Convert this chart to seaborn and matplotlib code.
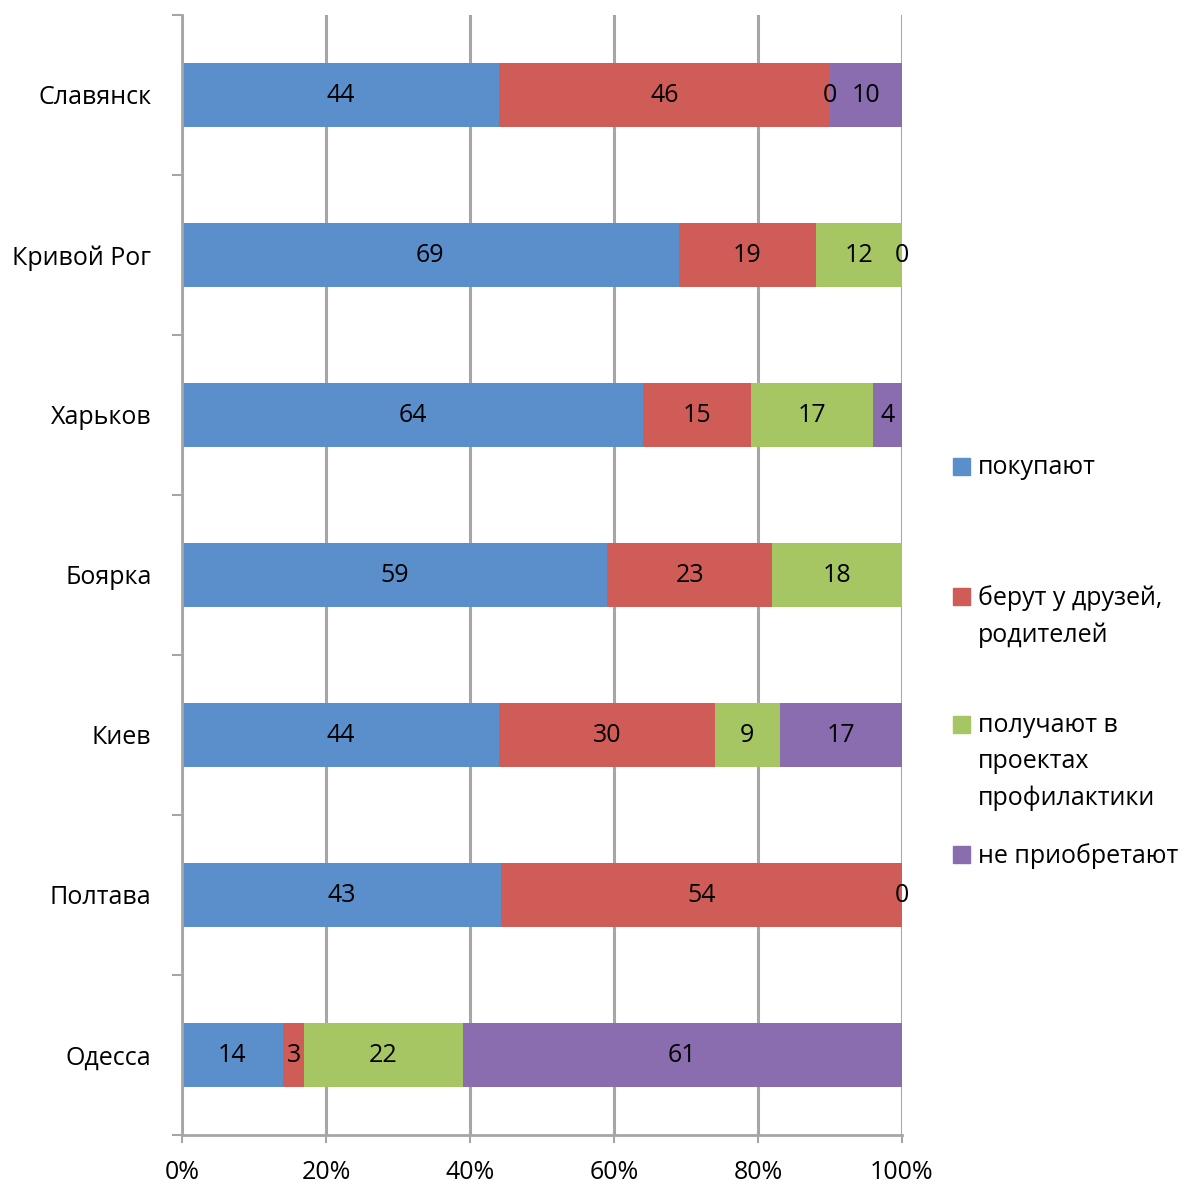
import numpy as np
import pandas as pd
import matplotlib.pyplot as plt
import seaborn as sns
from matplotlib.patches import Rectangle

# data
cities = ["Славянск", "Кривой Рог", "Харьков", "Боярка", "Киев", "Полтава", "Одесса"]
buy = [44, 69, 64, 59, 44, 43, 14]
borrow = [46, 19, 15, 23, 30, 54, 3]
projects = [0, 12, 17, 18, 9, 0, 22]
not_get = [10, 0, 4, np.nan, 17, np.nan, 61]
series_names = ["покупают", "берут у друзей,\nродителей",
                "получают в\nпроектах\nпрофилактики", "не приобретают"]
colors = ["#5A8FCB", "#D05C57", "#A6C663", "#8A6DAE"]
x_ticks = [0, 20, 40, 60, 80, 100]

sns.set_theme(style="white")
plt.rcParams["font.family"] = ["Open Sans", "DejaVu Sans"]
plt.rcParams["text.color"] = "black"

W, H = 1184, 1187
fig = plt.figure(figsize=(W / 100, H / 100), dpi=100)
ax = fig.add_axes([182 / W, 1 - 1135 / H, 720 / W, 1120 / H])

series = [buy, borrow, projects, not_get]
totals = np.nansum(np.array(series, dtype=float), axis=0)

left = np.zeros(len(cities))
for vals, color in zip(series, colors):
    vals = np.array(vals, dtype=float)
    pct = np.nan_to_num(vals) / totals * 100
    d = pd.DataFrame({"city": cities, "pct": pct})
    sns.barplot(data=d, x="pct", y="city", orient="h", color=color,
                width=0.4, saturation=1, errorbar=None, left=left.copy(),
                linewidth=0, ax=ax)
    labels = ["" if np.isnan(v) else "{:.0f}".format(v) for v in vals]
    ax.bar_label(ax.containers[-1], labels=labels, label_type="center",
                 fontsize=18, color="black")
    left += pct

grey = "#A6A6A6"
ax.set_xlim(0, 100)
ax.set_ylim(len(cities) - 0.5, -0.5)
ax.set_xticks(x_ticks)
ax.set_xticklabels(["{}%".format(t) for t in x_ticks], fontsize=18)
ax.set_yticks(range(len(cities)))
ax.set_yticklabels(cities, fontsize=18)
ax.set_yticks(np.arange(-0.5, len(cities), 1), minor=True)
ax.set_xlabel("")
ax.set_ylabel("")

ax.xaxis.grid(True, color=grey, linewidth=2.2)
ax.set_axisbelow(True)
for s in ["top", "right"]:
    ax.spines[s].set_visible(False)
for s in ["left", "bottom"]:
    ax.spines[s].set_color(grey)
    ax.spines[s].set_linewidth(2)

ax.tick_params(axis="y", which="major", length=0, pad=22, labelcolor="black")
ax.tick_params(axis="y", which="minor", length=7, width=1.5, color=grey, left=True)
ax.tick_params(axis="x", which="major", length=6, width=1.5, color=grey,
               bottom=True, pad=12, labelcolor="black")

# legend, laid out like the Excel original
leg_rows = [466, 596, 724, 854]
for name, color, yc in zip(series_names, colors, leg_rows):
    fig.patches.append(Rectangle((953 / W, 1 - (yc + 8.5) / H), 17 / W, 17 / H,
                                 transform=fig.transFigure, color=color))
    fig.text(978 / W, 1 - (yc - 11) / H, name, ha="left", va="top",
             fontsize=18, linespacing=1.59, color="black")

fig.savefig("out.png", dpi=100)
